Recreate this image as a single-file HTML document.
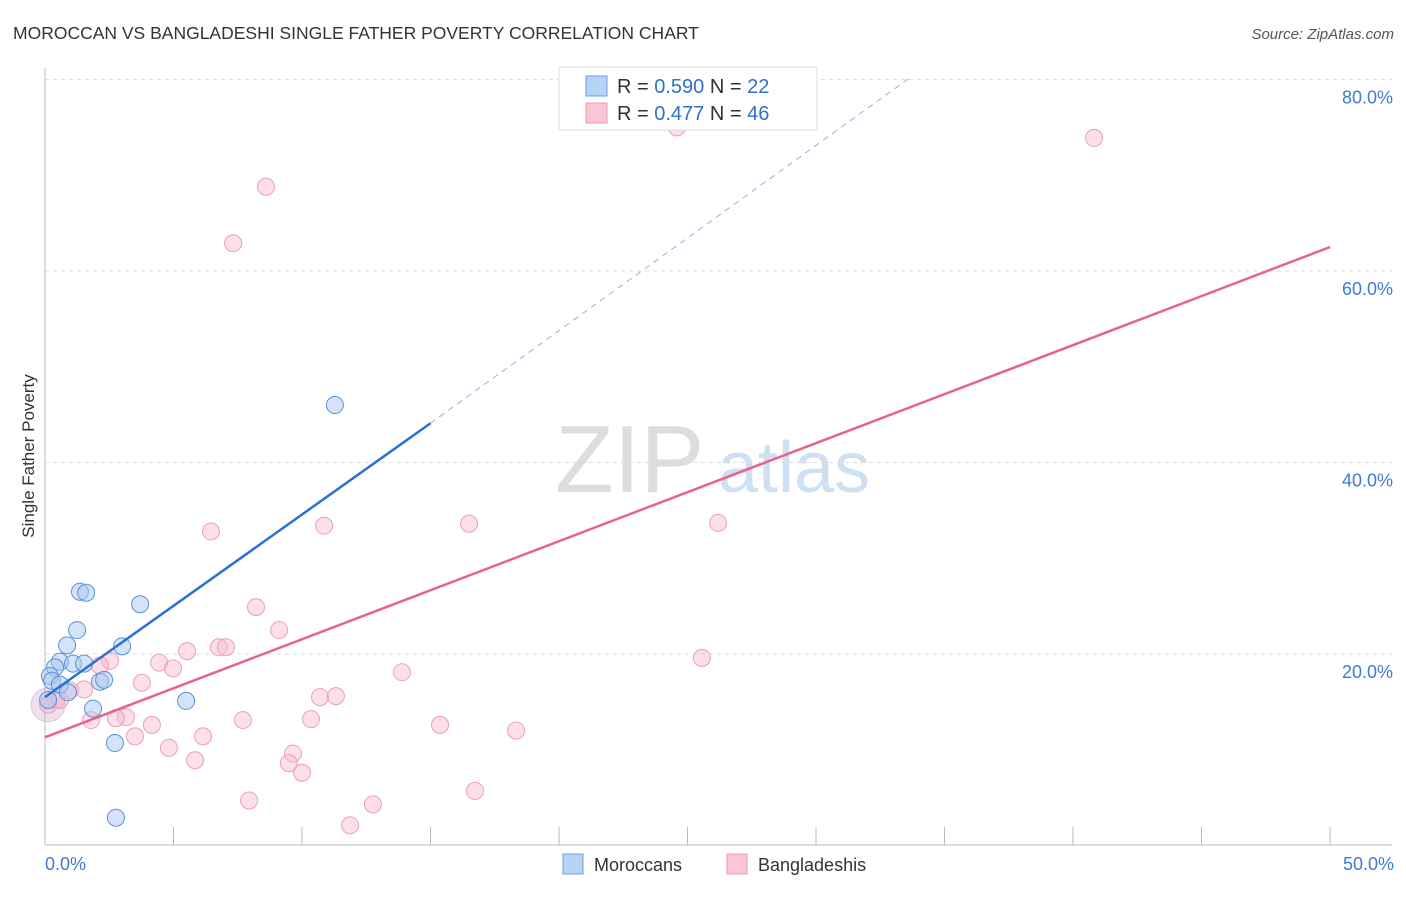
<!DOCTYPE html>
<html><head><meta charset="utf-8"><style>
body{margin:0;background:#fff;font-family:"Liberation Sans",sans-serif}
svg text{font-family:"Liberation Sans",sans-serif}
</style></head><body>
<svg id="chart" width="1406" height="892">
<text x="13" y="39" font-size="17.5" fill="#333">MOROCCAN VS BANGLADESHI SINGLE FATHER POVERTY CORRELATION CHART</text>
<text x="1394" y="39" font-size="15" fill="#555" font-style="italic" text-anchor="end">Source: ZipAtlas.com</text>
<text x="0" y="0" transform="translate(34,456) rotate(-90)" font-size="17" fill="#333" text-anchor="middle">Single Father Poverty</text>
<g><text x="555" y="492" font-size="96" fill="#ddd" font-family="Liberation Serif">ZIP</text><text x="718" y="492" font-size="72" fill="#cfe0f3">atlas</text></g>
<g id="grid"></g><g id="axes"></g><g id="marks"></g><g id="lines"></g>
<g>
<rect x="559" y="67" width="258" height="63" fill="#fff" stroke="#ddd"/>
<rect x="586" y="76" width="21" height="20" fill="#b6d2f5" stroke="#6a9fe0"/>
<text x="617" y="93" font-size="20" fill="#333">R = <tspan fill="#2f6fd0">0.590</tspan>   N =  <tspan fill="#2f6fd0">22</tspan></text>
<rect x="586" y="103" width="21" height="20" fill="#f9c6d5" stroke="#ec9ab3"/>
<text x="617" y="120" font-size="20" fill="#333">R =  <tspan fill="#2f6fd0">0.477</tspan>   N = <tspan fill="#2f6fd0">46</tspan></text>
</g>
<g>
<rect x="563" y="854" width="20" height="20" fill="#b6d2f5" stroke="#6a9fe0"/>
<text x="594" y="871" font-size="18" fill="#333">Moroccans</text>
<rect x="727" y="854" width="20" height="20" fill="#f9c6d5" stroke="#ec9ab3"/>
<text x="758" y="871" font-size="18" fill="#333">Bangladeshis</text>
</g>
</svg>
<script>
const blueX=[1.36,1.60,3.70,1.25,0.86,3.00,0.58,1.09,1.52,0.39,0.19,0.27,0.58,0.89,2.14,2.30,5.49,1.87,2.72,11.28,2.76,0.12];
const blueY=[26.5,26.4,25.2,22.5,20.9,20.8,19.2,19.0,19.0,18.6,17.7,17.2,16.8,16.0,17.1,17.3,15.1,14.3,10.7,46.0,2.9,15.2];
const pinkX=[8.60,7.32,24.59,40.82,6.46,10.86,16.50,26.19,8.21,9.11,5.53,6.77,7.04,2.53,4.44,4.98,13.89,25.56,3.77,1.52,0.43,10.70,11.32,3.15,2.76,1.79,4.16,7.70,10.35,15.37,18.33,3.50,6.15,4.82,9.65,5.84,9.49,10.0,16.73,7.94,12.76,11.87,2.14,0.97,0.12,0.58];
const pinkY=[68.8,62.9,75.0,73.9,32.8,33.4,33.6,33.7,24.9,22.5,20.3,20.7,20.7,19.3,19.1,18.5,18.1,19.6,17.0,16.3,15.2,15.5,15.6,13.4,13.3,13.1,12.6,13.1,13.2,12.6,12.0,11.4,11.4,10.2,9.6,8.9,8.6,7.6,5.7,4.7,4.3,2.1,18.8,16.2,14.7,15.2];
const yTicks=[20,40,60,80];
const yTickLabels=["20.0%","40.0%","60.0%","80.0%"];
const xTicks=[0,5,10,15,20,25,30,35,40,45,50];
const blueTrend=[[0,15.5],[15,44.1]];
const blueTrendDash=[[15,44.1],[33.66,80.2]];
const pinkTrend=[[0,11.3],[50,62.5]];
const NS="http://www.w3.org/2000/svg";
const sx=v=>45+v*25.7, sy=v=>845.5-v*9.575;
function mk(p,t,a){const e=document.createElementNS(NS,t);for(const k in a)e.setAttribute(k,a[k]);document.getElementById(p).appendChild(e);return e;}
yTicks.forEach((t,i)=>{
 const l=mk('grid','line',{x1:45,x2:1392,y1:sy(t),y2:sy(t),stroke:'#ddd','stroke-dasharray':'4,4'});
 
 
 const tx=mk('grid','text',{x:1393,y:sy(t)+24,'font-size':18,fill:'#3f7ad6','text-anchor':'end'});tx.textContent=yTickLabels[i];
 
 
});
let a=mk('axes','line',{x1:45,x2:45,y1:68,y2:845,stroke:'#bbb'});


a=mk('axes','line',{x1:45,x2:1392,y1:845,y2:845,stroke:'#bbb'});


xTicks.forEach(t=>{const l=mk('axes','line',{x1:sx(t),x2:sx(t),y1:827,y2:845,stroke:'#bbb'});
 
 });
let t0=mk('axes','text',{x:45,y:870,'font-size':18,fill:'#3f7ad6'});t0.textContent='0.0%';


let t1=mk('axes','text',{x:1394,y:870,'font-size':18,fill:'#3f7ad6','text-anchor':'end'});t1.textContent='50.0%';


mk('marks','circle',{cx:sx(0.12),cy:sy(14.7),r:17,fill:'rgba(200,170,200,0.35)',stroke:'rgba(180,150,190,0.4)'});
pinkX.forEach((x,i)=>{const c=mk('marks','circle',{cx:sx(x),cy:sy(pinkY[i]),r:8.5,fill:'rgba(248,184,204,0.45)',stroke:'#eca0b8','stroke-width':1});
 
 });
blueX.forEach((x,i)=>{const c=mk('marks','circle',{cx:sx(x),cy:sy(blueY[i]),r:8.5,fill:'rgba(170,200,240,0.5)',stroke:'#5a92dc','stroke-width':1});
 
 });
let L=mk('lines','line',{x1:sx(pinkTrend[0][0]),y1:sy(pinkTrend[0][1]),x2:sx(pinkTrend[1][0]),y2:sy(pinkTrend[1][1]),stroke:'#e8628f','stroke-width':2.5});


L=mk('lines','line',{x1:sx(blueTrend[0][0]),y1:sy(blueTrend[0][1]),x2:sx(blueTrend[1][0]),y2:sy(blueTrend[1][1]),stroke:'#2a70d4','stroke-width':2.5});


L=mk('lines','line',{x1:sx(blueTrendDash[0][0]),y1:sy(blueTrendDash[0][1]),x2:sx(blueTrendDash[1][0]),y2:sy(blueTrendDash[1][1]),stroke:'#8fb3e6','stroke-width':1,'stroke-dasharray':'6,5'});


</script>
</body></html>
